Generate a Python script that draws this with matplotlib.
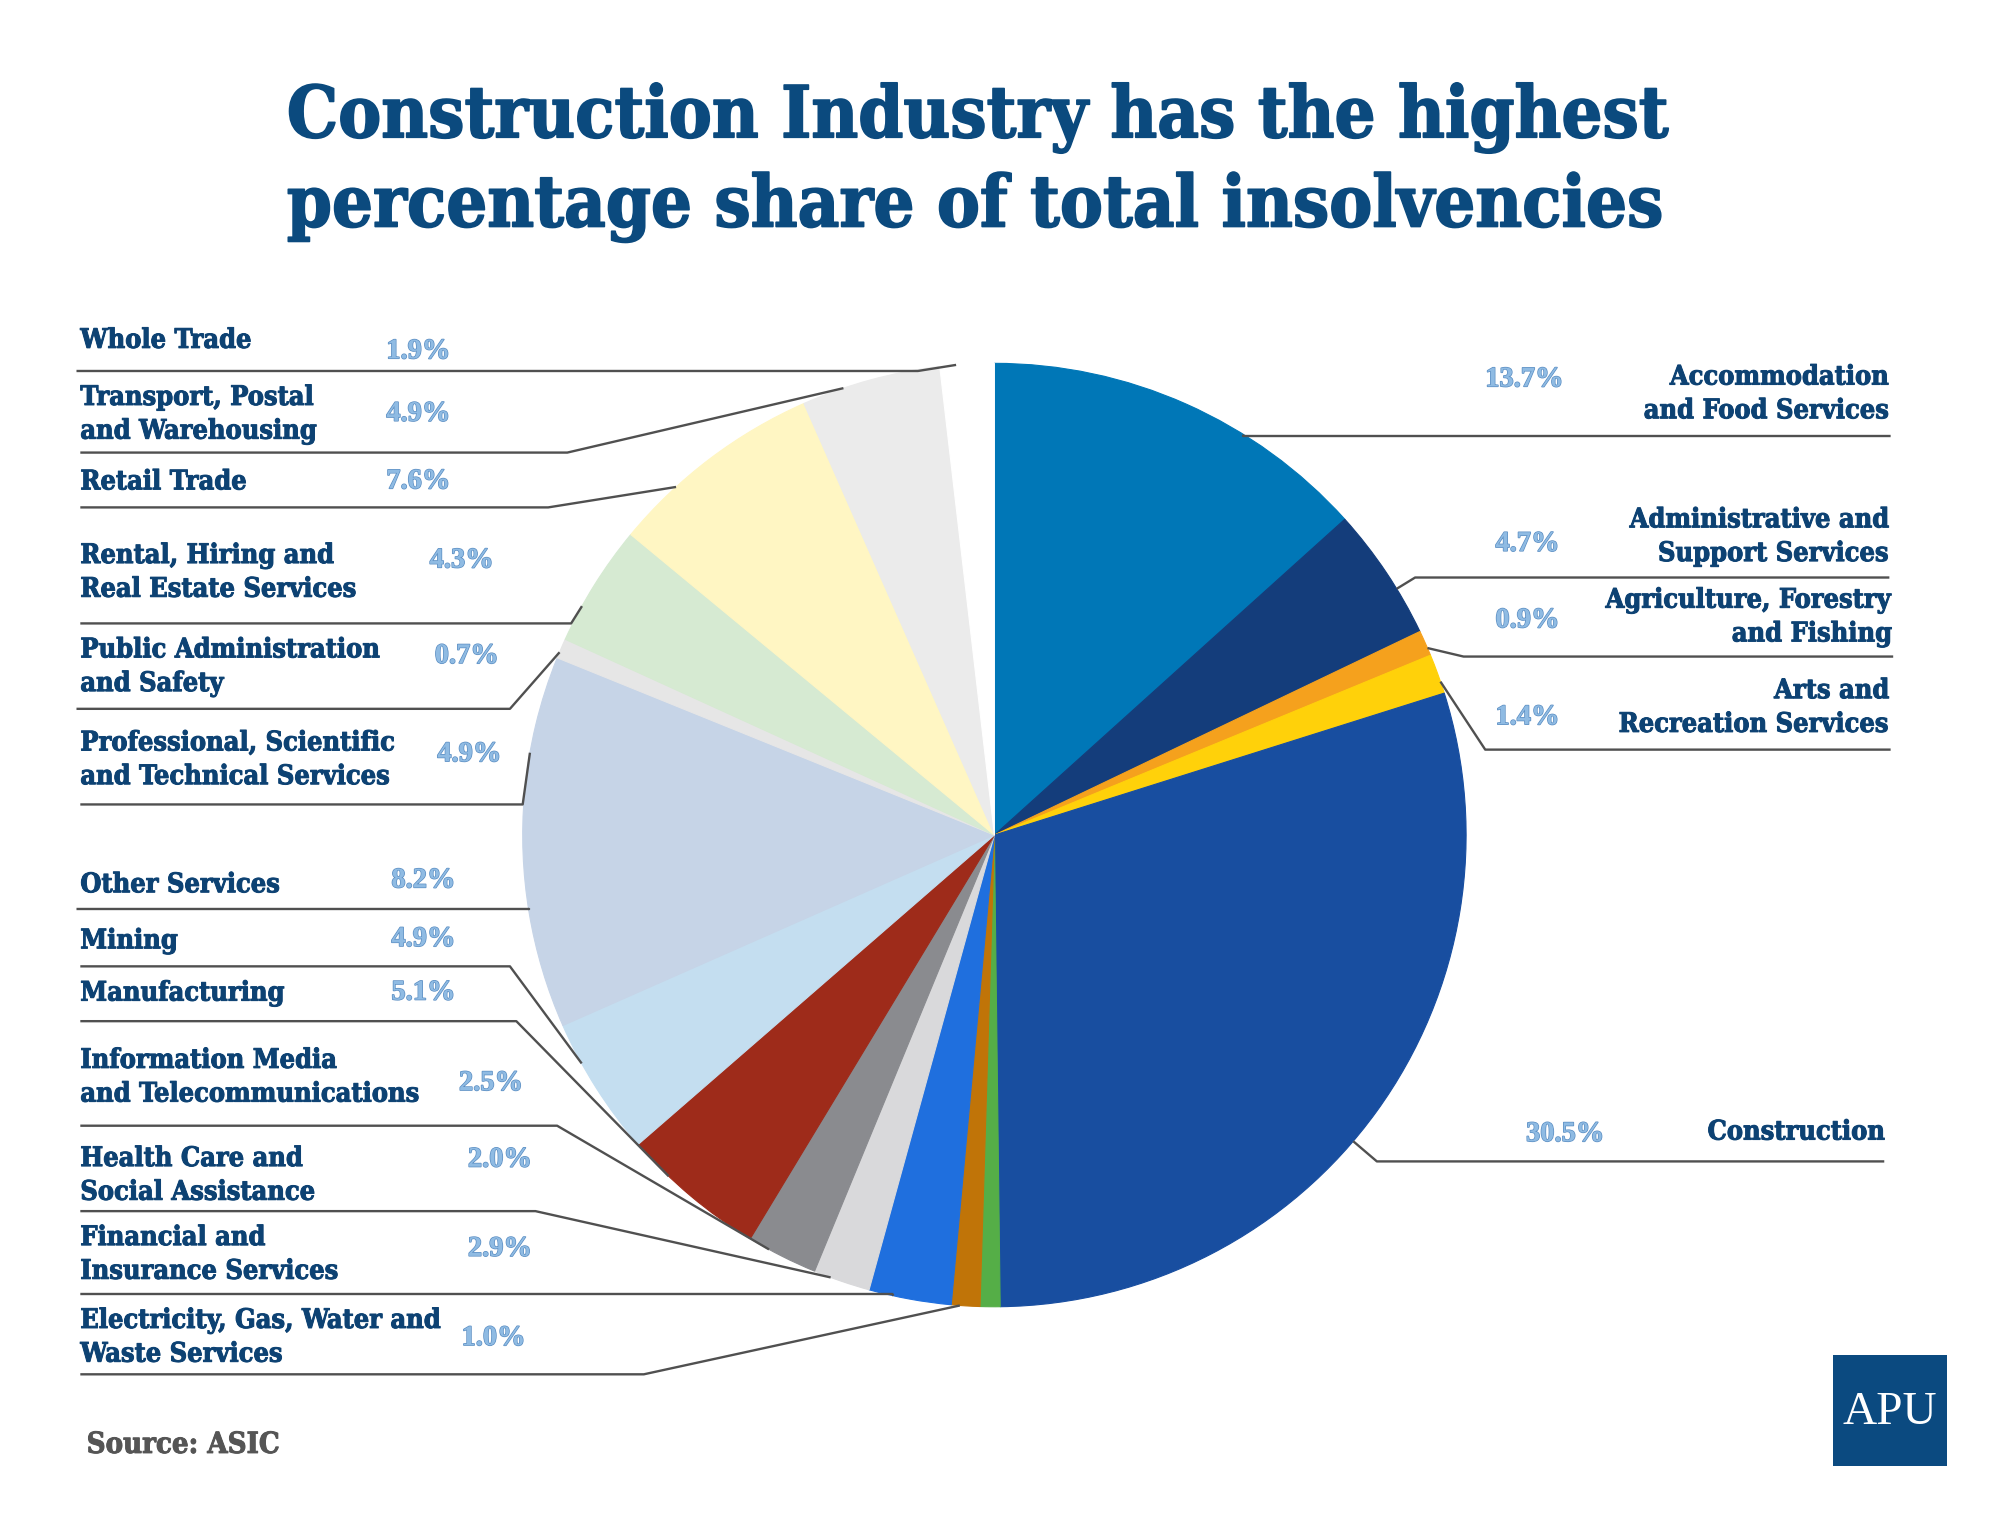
import matplotlib
matplotlib.use("Agg")
import matplotlib.pyplot as plt
import matplotlib.patheffects as pe
from matplotlib import font_manager
import numpy as np
from matplotlib.patches import Rectangle

# ---------------- data ----------------
categories = [
    "Accommodation and Food Services",
    "Administrative and Support Services",
    "Agriculture, Forestry and Fishing",
    "Arts and Recreation Services",
    "Construction",
    "Unlabelled",
    "Electricity, Gas, Water and Waste Services",
    "Financial and Insurance Services",
    "Health Care and Social Assistance",
    "Information Media and Telecommunications",
    "Manufacturing",
    "Mining",
    "Other Services",
    "Professional, Scientific and Technical Services",
    "Public Administration and Safety",
    "Rental, Hiring and Real Estate Services",
    "Retail Trade",
    "Transport, Postal and Warehousing",
    "Whole Trade",
]
shares = [13.7, 4.7, 0.9, 1.4, 30.5, 0.7, 1.0, 2.9, 2.0, 2.5, 5.1, 4.9,
          8.2, 4.9, 0.7, 4.3, 7.6, 4.9, 1.9]

display_text = {
    "Accommodation and Food Services": "Accommodation\nand Food Services",
    "Administrative and Support Services": "Administrative and\nSupport Services",
    "Agriculture, Forestry and Fishing": "Agriculture, Forestry\nand Fishing",
    "Arts and Recreation Services": "Arts and\nRecreation Services",
    "Construction": "Construction",
    "Electricity, Gas, Water and Waste Services": "Electricity, Gas, Water and\nWaste Services",
    "Financial and Insurance Services": "Financial and\nInsurance Services",
    "Health Care and Social Assistance": "Health Care and\nSocial Assistance",
    "Information Media and Telecommunications": "Information Media\nand Telecommunications",
    "Manufacturing": "Manufacturing",
    "Mining": "Mining",
    "Other Services": "Other Services",
    "Professional, Scientific and Technical Services": "Professional, Scientific\nand Technical Services",
    "Public Administration and Safety": "Public Administration\nand Safety",
    "Rental, Hiring and Real Estate Services": "Rental, Hiring and\nReal Estate Services",
    "Retail Trade": "Retail Trade",
    "Transport, Postal and Warehousing": "Transport, Postal\nand Warehousing",
    "Whole Trade": "Whole Trade",
}

title_lines = ["Construction Industry has the highest",
               "percentage share of total insolvencies"]
source_text = "Source: ASIC"
logo_text = "APU"

# ---------------- styles ----------------
slice_colors = ["#0077B7", "#143D7B", "#F5A11D", "#FFD10A", "#184EA0",
                "#55AE47", "#C07408", "#1F6FDE", "#D9D9DB", "#8A8B8F",
                "#9E2B1A", "#C4DEF0", "#C6D4E7", "#C6D4E7", "#E6E6E6",
                "#D6EAD2", "#FFF6C3", "#EBEBEB", "#FFFFFF"]
TITLE_C = "#0B4A7E"
LABEL_C = "#0D4273"
PCT_FILL = "#8FBBE3"
PCT_EDGE = "#5A8DC2"
LINE_C = "#505050"

# pick a condensed bold serif if one is installed
cond = font_manager.FontProperties(family="DejaVu Serif", stretch="condensed", weight="bold")
cond_file = font_manager.findfont(cond, fallback_to_default=False)
if "Condensed" in cond_file:
    LABEL_FP = dict(fontproperties=font_manager.FontProperties(fname=cond_file))
else:
    LABEL_FP = dict(family=["Liberation Serif", "DejaVu Serif"], fontweight="bold")

# ---------------- layout (reference display units) ----------------
S = 1999 / 1568.0
CX, CY, R = 780, 655, 370

# side, block (x, yc), pct (x, yc), underline (x_far, y, elbow_x)
layout = {
    "Whole Trade": ("L", (63, 267), (303, 276), (60, 291, 720)),
    "Transport, Postal and Warehousing": ("L", (63, 325), (303, 325), (63, 355, 445)),
    "Retail Trade": ("L", (63, 378), (303, 378), (63, 398, 430)),
    "Rental, Hiring and Real Estate Services": ("L", (63, 449), (337, 440), (63, 489, 448)),
    "Public Administration and Safety": ("L", (63, 523), (341, 515), (60, 556, 400)),
    "Professional, Scientific and Technical Services": ("L", (63, 596), (343, 592), (63, 631, 410)),
    "Other Services": ("L", (63, 694), (307, 691), (60, 713, 415)),
    "Mining": ("L", (63, 738), (307, 737), (63, 758, 400)),
    "Manufacturing": ("L", (63, 779), (307, 779), (63, 801, 405)),
    "Information Media and Telecommunications": ("L", (63, 845), (360, 850), (63, 883, 437)),
    "Health Care and Social Assistance": ("L", (63, 922), (367, 910), (63, 950, 420)),
    "Financial and Insurance Services": ("L", (63, 984), (367, 980), (63, 1015, 700)),
    "Electricity, Gas, Water and Waste Services": ("L", (63, 1049), (362, 1050), (63, 1078, 505)),
    "Accommodation and Food Services": ("R", (1482, 309), (1165, 298), (1483, 342, 975)),
    "Administrative and Support Services": ("R", (1482, 421), (1173, 427), (1482, 453, 1110)),
    "Agriculture, Forestry and Fishing": ("R", (1484, 484), (1173, 487), (1485, 515, 1148)),
    "Arts and Recreation Services": ("R", (1482, 555), (1173, 563), (1483, 588, 1165)),
    "Construction": ("R", (1479, 888), (1197, 890), (1478, 911, 1080)),
}

LABEL_TARGET_W = 134 * S      # width of "Whole Trade" in the reference
PCT_FS = 20.5

# ---------------- figure ----------------
fig = plt.figure(figsize=(19.99, 15.13), dpi=100)
ax = fig.add_axes([0, 0, 1, 1])

wedges, _ = ax.pie(shares, colors=slice_colors, startangle=-90, counterclock=True,
                   center=(CX * S, CY * S), radius=R * S,
                   wedgeprops=dict(linewidth=0.8))
for w in wedges:
    w.set_edgecolor(w.get_facecolor())
ax.set_xlim(0, 1999)
ax.set_ylim(1513, 0)
ax.set_aspect("equal")
ax.axis("off")
renderer = fig.canvas.get_renderer()

# fit label font size to reference width
probe = ax.text(0, 0, "Whole Trade", fontsize=20, **LABEL_FP)
LABEL_FS = 20 * LABEL_TARGET_W / probe.get_window_extent(renderer).width
probe.remove()

# slice angular ranges, clockwise from 12 o'clock
total = float(sum(shares))
ends = np.cumsum(shares) / total * 360.0
starts = ends - np.array(shares) / total * 360.0

pct_effects = [pe.withStroke(linewidth=1.0, foreground=PCT_EDGE)]
label_effects = [pe.withStroke(linewidth=0.7, foreground=LABEL_C)]

for i, name in enumerate(categories):
    if name not in layout:
        continue
    side, (bx, by), (px, py), (ux, uy, ex) = layout[name]
    txt = display_text[name]
    ha = "left" if side == "L" else "right"
    ax.text(bx * S, by * S, txt, ha=ha, va="center", multialignment=ha,
            fontsize=LABEL_FS, color=LABEL_C, linespacing=1.32,
            path_effects=label_effects, **LABEL_FP)
    ax.text(px * S, py * S, f"{shares[i]:.1f}%", ha="left", va="center",
            fontsize=PCT_FS, fontweight="bold", color=PCT_FILL,
            family=["Liberation Serif", "DejaVu Serif"], path_effects=pct_effects)

    # leader line: underline -> elbow -> point on the slice edge
    dx, dy = ex - CX, uy - CY
    phi = np.degrees(np.arctan2(dx, -dy)) % 360.0
    s0, s1 = starts[i], ends[i]
    m = 0.3 * (s1 - s0)
    if s1 >= 359.9 and phi < 180:
        phi += 360.0
    phi = min(max(phi, s0 + m), s1 - m)
    ax_pt = CX + R * np.sin(np.radians(phi))
    ay_pt = CY - R * np.cos(np.radians(phi))
    xs = [ux * S, ex * S, ax_pt * S]
    ys = [uy * S, uy * S, ay_pt * S]
    ax.plot(xs, ys, color=LINE_C, lw=1.7, solid_capstyle="butt", zorder=1)

# title, fitted to the reference width
title_y = [92, 162]
target_w = 1085 * S
t0 = ax.text(225 * S, title_y[0] * S, title_lines[0], ha="left", va="center",
             fontsize=60, color=TITLE_C, **LABEL_FP)
w = t0.get_window_extent(renderer).width
fs = 60 * target_w / w
t0.set_fontsize(fs)
t1 = ax.text(225 * S, title_y[1] * S, title_lines[1], ha="left", va="center",
             fontsize=fs, color=TITLE_C, **LABEL_FP)
title_effects = [pe.withStroke(linewidth=1.2, foreground=TITLE_C)]
t0.set_path_effects(title_effects)
t1.set_path_effects(title_effects)

# source
ax.text(68 * S, 1133 * S, source_text, ha="left", va="center",
        fontsize=LABEL_FS * 1.08, color="#555555",
        path_effects=[pe.withStroke(linewidth=0.7, foreground="#555555")], **LABEL_FP)

# logo
ax.add_patch(Rectangle((1438 * S, 1063 * S), 89 * S, 87 * S,
                       facecolor="#0B4A80", edgecolor="none", zorder=3))
ax.text((1438 + 44.5) * S, (1063 + 45) * S, logo_text, ha="center", va="center",
        fontsize=34, color="white", family=["Liberation Serif", "DejaVu Serif"], zorder=4)

fig.savefig("out.png", dpi=100, facecolor="white")
